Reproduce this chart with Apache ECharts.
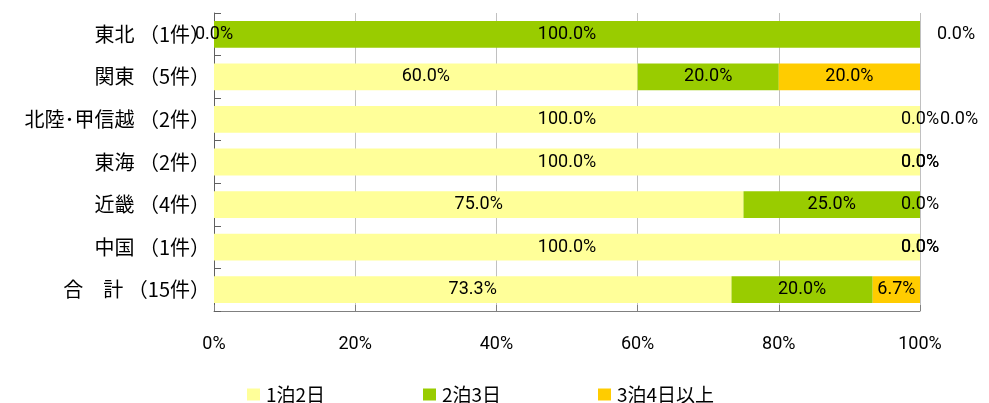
<!DOCTYPE html>
<html>
<head>
<meta charset="utf-8">
<script src="https://cdn.jsdelivr.net/npm/echarts@6/dist/echarts.min.js"></script>
<style>
  html, body { margin: 0; padding: 0; background: #fff; }
  #chart { width: 989px; height: 403px; }
</style>
</head>
<body>
<div id="chart"></div>
<script>
const regions = ['東北 （1件）', '関東 （5件）', '北陸･甲信越 （2件）', '東海 （2件）', '近畿 （4件）', '中国 （1件）', '合　計 （15件）'];
const seriesNames = ['1泊2日', '2泊3日', '3泊4日以上'];
const oneNight = [0, 60, 100, 100, 75, 100, 73.3];
const twoNights = [100, 20, 0, 0, 25, 0, 20.0];
const threePlus = [0, 20, 0, 0, 0, 0, 6.7];
const xTicks = [0, 20, 40, 60, 80, 100];

(function () {
  const el = document.getElementById('chart');
  const chart = echarts.init(el);

  const colors = ['#ffff99', '#99cc00', '#ffcc00'];
  const numFont = 'Roboto, "Noto Sans", sans-serif';
  const jpFont = '"Noto Sans CJK JP", sans-serif';
  // where Excel pushed the trailing zero labels past the bar end
  const trailingShift = [36, 0, 39, 0, 0, 0, 0];

  const labelStyle = {
    show: true,
    position: 'inside',
    color: '#000',
    fontFamily: numFont,
    fontSize: 18,
    formatter: (p) => p.value.toFixed(1) + '%',
  };

  function makeSeries(name, values, idx) {
    return {
      name,
      type: 'bar',
      stack: 'total',
      barCategoryGap: '37%',
      itemStyle: { color: colors[idx] },
      label: labelStyle,
      data: values.map((v, i) => {
        if (idx === 2) return { value: v, label: { offset: [trailingShift[i], 0] } };
        return v;
      }),
    };
  }

  const legends = seriesNames.map((name, i) => ({
    data: [name],
    left: [242, 418, 593][i],
    top: 380,
    itemWidth: 13,
    itemHeight: 12,
    icon: 'rect',
    textStyle: { color: '#000', fontFamily: jpFont, fontSize: 19, padding: [0, 0, 0, 1] },
  }));

  chart.setOption({
    animation: false,
    legend: legends,
    grid: { left: 214, right: 69, top: 13, bottom: 92 },
    xAxis: {
      type: 'value',
      min: xTicks[0],
      max: xTicks[xTicks.length - 1],
      interval: xTicks[1] - xTicks[0],
      axisLine: { show: true, lineStyle: { color: '#808080' } },
      axisTick: { show: true, inside: true, length: 6, lineStyle: { color: '#808080' } },
      splitLine: { show: true, lineStyle: { color: '#c0c0c0' } },
      axisLabel: {
        color: '#000',
        fontFamily: numFont,
        fontSize: 18,
        margin: 24,
        formatter: '{value}%',
      },
    },
    yAxis: {
      type: 'category',
      inverse: true,
      data: regions,
      axisLine: { show: true, lineStyle: { color: '#606060' } },
      axisTick: { show: true, inside: true, length: 7, lineStyle: { color: '#606060' } },
      axisLabel: { color: '#000', fontFamily: jpFont, fontSize: 20, margin: 4 },
    },
    series: [
      makeSeries(seriesNames[0], oneNight, 0),
      makeSeries(seriesNames[1], twoNights, 1),
      makeSeries(seriesNames[2], threePlus, 2),
    ],
  });

  window.addEventListener('resize', () => chart.resize());
})();
</script>
</body>
</html>
